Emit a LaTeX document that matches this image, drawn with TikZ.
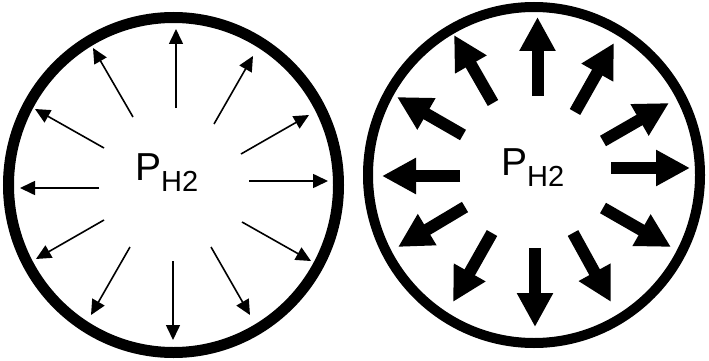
\documentclass[tikz,border=0pt]{standalone}
\usepackage{fontspec}
\setmainfont{Liberation Sans}
\usetikzlibrary{arrows.meta}

\begin{document}
\begin{tikzpicture}[x=1pt,y=-1pt]
\tikzset{
  vessel/.style={draw=black,line width=11pt},
  thinarrow/.style={draw=black,line width=1.6pt,-{Triangle[length=15pt,width=14pt]}},
  thickarrow/.style={draw=black,line width=12pt,-{Triangle[length=34pt,width=34pt]}},
  pressure/.style={anchor=base west,inner sep=0pt,font=\fontsize{39}{39}\selectfont}
}
\useasboundingbox (0,0) rectangle (709,361);
\draw[vessel] (173.5,185) ellipse [x radius=165,y radius=167.5];
\draw[vessel,line width=10pt] (534,175) ellipse [x radius=166,y radius=168];
\node[pressure] (p_left) at (135,180) {P{\fontsize{29}{29}\selectfont\raisebox{-11pt}{H2}}};
\node[pressure] (p_right) at (501,175) {P{\fontsize{29}{29}\selectfont\raisebox{-11pt}{H2}}};
% low pressure
\draw[thinarrow] (176,108) -- (176,29);
\draw[thinarrow] (214,124) -- (253,56);
\draw[thinarrow] (241,154) -- (309,115);
\draw[thinarrow] (249,181) -- (328,181);
\draw[thinarrow] (242,222) -- (311,261);
\draw[thinarrow] (211,247) -- (250,315);
\draw[thinarrow] (173,261) -- (173,340);
\draw[thinarrow] (130,247) -- (91,315);
\draw[thinarrow] (104,220) -- (36,259);
\draw[thinarrow] (99,188) -- (20,188);
\draw[thinarrow] (104,148) -- (35,109);
\draw[thinarrow] (133,117) -- (93,48);
% high pressure
\draw[thickarrow] (537.5,96) -- (537.5,17);
\draw[thickarrow] (575,112) -- (614,43);
\draw[thickarrow] (603,141) -- (669,103);
\draw[thickarrow] (611,168) -- (690,168);
\draw[thickarrow] (603,208) -- (671,247);
\draw[thickarrow] (573,233) -- (611,302);
\draw[thickarrow] (535,248) -- (535,327);
\draw[thickarrow] (492,233) -- (453,302);
\draw[thickarrow] (465,207) -- (398,247);
\draw[thickarrow] (460,176) -- (382,176);
\draw[thickarrow] (463,135) -- (397,97);
\draw[thickarrow] (493,103) -- (454,35);
\end{tikzpicture}
\end{document}
